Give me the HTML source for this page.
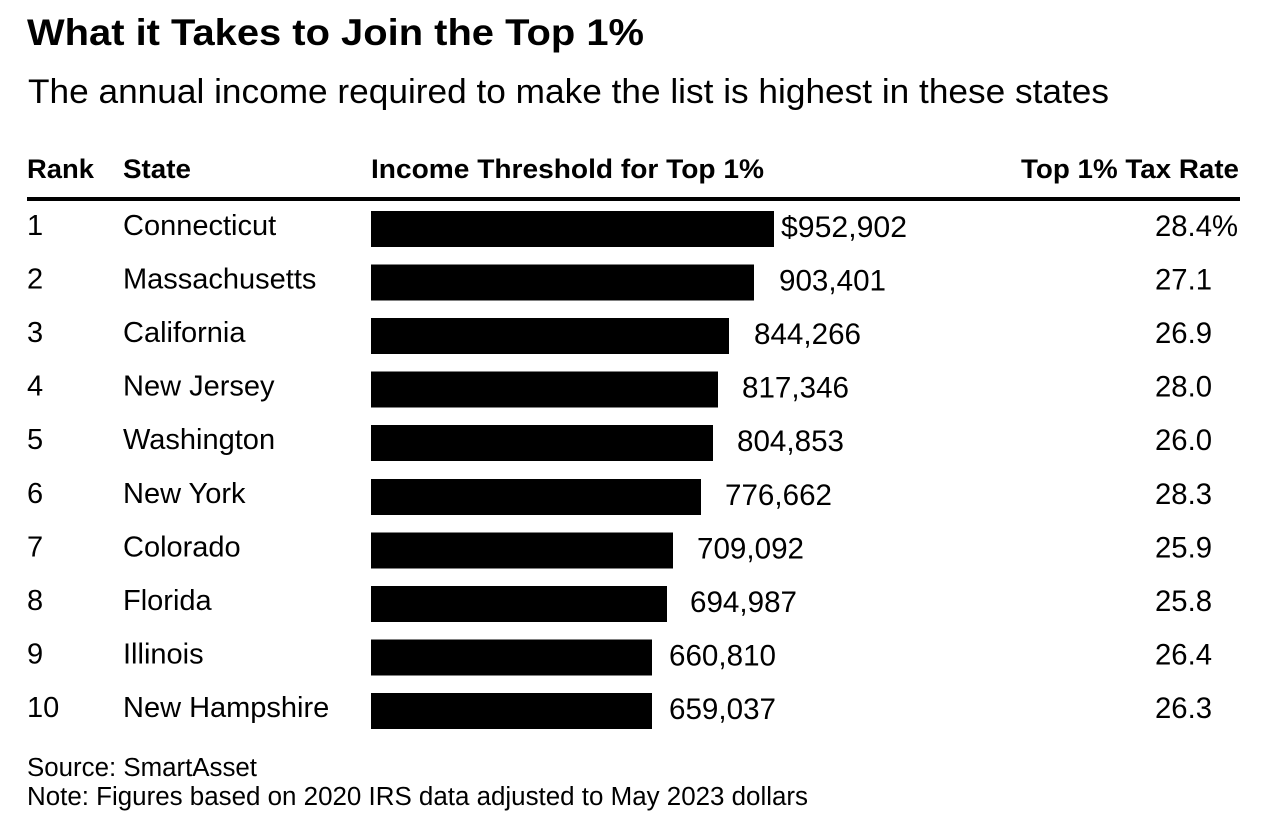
<!DOCTYPE html>
<html>
<head>
<meta charset="utf-8">
<style>
  html, body { margin: 0; padding: 0; background: #ffffff; }
  svg { display: block; }
  text { font-family: "Liberation Sans", Arial, sans-serif; fill: #000; }
  .b { font-weight: bold; }
</style>
</head>
<body>
<svg width="1272" height="836" viewBox="0 0 1272 836" xmlns="http://www.w3.org/2000/svg">
  <rect x="0" y="0" width="1272" height="836" fill="#ffffff"/>

  <!-- Title & subtitle -->
  <text class="b" x="27" y="45" font-size="37" textLength="617" lengthAdjust="spacingAndGlyphs">What it Takes to Join the Top 1%</text>
  <text x="28" y="103" font-size="34.5" textLength="1081" lengthAdjust="spacingAndGlyphs">The annual income required to make the list is highest in these states</text>

  <!-- Header -->
  <text class="b" x="27" y="178" font-size="27" textLength="67" lengthAdjust="spacingAndGlyphs">Rank</text>
  <text class="b" x="123" y="178" font-size="27" textLength="68" lengthAdjust="spacingAndGlyphs">State</text>
  <text class="b" x="371" y="178" font-size="27" textLength="393" lengthAdjust="spacingAndGlyphs">Income Threshold for Top 1%</text>
  <text class="b" x="1021" y="178" font-size="27" textLength="218" lengthAdjust="spacingAndGlyphs">Top 1% Tax Rate</text>
  <rect x="27" y="197" width="1213" height="4" fill="#000"/>

  <!-- Row 1 -->
  <text x="27" y="235" font-size="29">1</text>
  <text x="123" y="235" font-size="29">Connecticut</text>
  <rect x="371" y="211" width="403" height="36" fill="#000"/>
  <text x="781" y="237" font-size="29.6" textLength="126" lengthAdjust="spacingAndGlyphs">$952,902</text>
  <text x="1155" y="236" font-size="29.3" textLength="83" lengthAdjust="spacingAndGlyphs">28.4%</text>

  <!-- Row 2 -->
  <text x="27" y="288.5" font-size="29">2</text>
  <text x="123" y="288.5" font-size="29">Massachusetts</text>
  <rect x="371" y="264.5" width="383" height="36" fill="#000"/>
  <text x="779" y="290.5" font-size="29.6" textLength="107" lengthAdjust="spacingAndGlyphs">903,401</text>
  <text x="1155" y="289.5" font-size="29.3">27.1</text>

  <!-- Row 3 -->
  <text x="27" y="342" font-size="29">3</text>
  <text x="123" y="342" font-size="29">California</text>
  <rect x="371" y="318" width="358" height="36" fill="#000"/>
  <text x="754" y="344" font-size="29.6" textLength="107" lengthAdjust="spacingAndGlyphs">844,266</text>
  <text x="1155" y="343" font-size="29.3">26.9</text>

  <!-- Row 4 -->
  <text x="27" y="395.5" font-size="29">4</text>
  <text x="123" y="395.5" font-size="29">New Jersey</text>
  <rect x="371" y="371.5" width="347" height="36" fill="#000"/>
  <text x="742" y="397.5" font-size="29.6" textLength="107" lengthAdjust="spacingAndGlyphs">817,346</text>
  <text x="1155" y="396.5" font-size="29.3">28.0</text>

  <!-- Row 5 -->
  <text x="27" y="449" font-size="29">5</text>
  <text x="123" y="449" font-size="29">Washington</text>
  <rect x="371" y="425" width="342" height="36" fill="#000"/>
  <text x="737" y="451" font-size="29.6" textLength="107" lengthAdjust="spacingAndGlyphs">804,853</text>
  <text x="1155" y="450" font-size="29.3">26.0</text>

  <!-- Row 6 -->
  <text x="27" y="503" font-size="29">6</text>
  <text x="123" y="503" font-size="29">New York</text>
  <rect x="371" y="479" width="330" height="36" fill="#000"/>
  <text x="725" y="505" font-size="29.6" textLength="107" lengthAdjust="spacingAndGlyphs">776,662</text>
  <text x="1155" y="504" font-size="29.3">28.3</text>

  <!-- Row 7 -->
  <text x="27" y="556.5" font-size="29">7</text>
  <text x="123" y="556.5" font-size="29">Colorado</text>
  <rect x="371" y="532.5" width="302" height="36" fill="#000"/>
  <text x="697" y="558.5" font-size="29.6" textLength="107" lengthAdjust="spacingAndGlyphs">709,092</text>
  <text x="1155" y="557.5" font-size="29.3">25.9</text>

  <!-- Row 8 -->
  <text x="27" y="610" font-size="29">8</text>
  <text x="123" y="610" font-size="29">Florida</text>
  <rect x="371" y="586" width="296" height="36" fill="#000"/>
  <text x="690" y="612" font-size="29.6" textLength="107" lengthAdjust="spacingAndGlyphs">694,987</text>
  <text x="1155" y="611" font-size="29.3">25.8</text>

  <!-- Row 9 -->
  <text x="27" y="663.5" font-size="29">9</text>
  <text x="123" y="663.5" font-size="29">Illinois</text>
  <rect x="371" y="639.5" width="281" height="36" fill="#000"/>
  <text x="669" y="665.5" font-size="29.6" textLength="107" lengthAdjust="spacingAndGlyphs">660,810</text>
  <text x="1155" y="664.5" font-size="29.3">26.4</text>

  <!-- Row 10 -->
  <text x="27" y="717" font-size="29">10</text>
  <text x="123" y="717" font-size="29">New Hampshire</text>
  <rect x="371" y="693" width="281" height="36" fill="#000"/>
  <text x="669" y="719" font-size="29.6" textLength="107" lengthAdjust="spacingAndGlyphs">659,037</text>
  <text x="1155" y="718" font-size="29.3">26.3</text>

  <!-- Footnotes -->
  <text x="27" y="776" font-size="25.5" textLength="230" lengthAdjust="spacingAndGlyphs">Source: SmartAsset</text>
  <text x="27" y="805" font-size="25.5" textLength="781" lengthAdjust="spacingAndGlyphs">Note: Figures based on 2020 IRS data adjusted to May 2023 dollars</text>
</svg>
</body>
</html>
